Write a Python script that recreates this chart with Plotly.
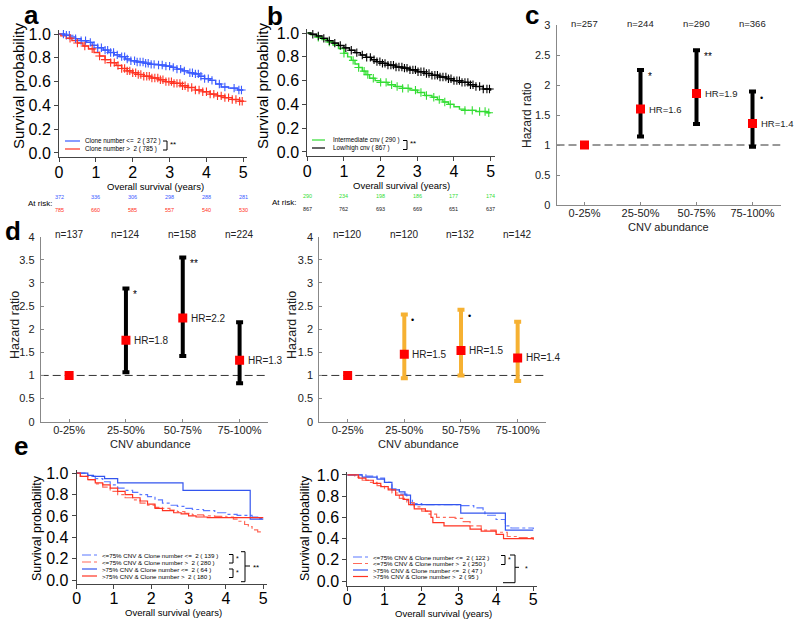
import numpy as np
import plotly.graph_objects as go

W, H = 800, 625
def px(x): return x / W
def py(y): return 1 - y / H

FONT = "Liberation Sans, Arial, Helvetica, sans-serif"
NARROW = "Liberation Sans Narrow, Liberation Sans, Arial, sans-serif"

BLUE = "#3b5bff"
RED = "#ff3322"
GREEN = "#33dd33"
ORANGE = "#f6b132"

# ---------------- data: panel a ----------------
a_blue_t = [0, 0.15, 0.3, 0.45, 0.6, 0.75, 0.9, 1.05, 1.2, 1.35, 1.5, 1.65, 1.8, 1.95, 2.1, 2.3, 2.5, 2.7, 2.9, 3.05, 3.2, 3.35, 3.5, 3.65, 3.8, 3.95, 4.1, 4.25, 4.4, 4.6, 4.85, 5.0]
a_blue_s = [1.0, 0.99, 0.975, 0.96, 0.945, 0.93, 0.905, 0.885, 0.865, 0.845, 0.825, 0.81, 0.79, 0.775, 0.765, 0.755, 0.745, 0.74, 0.73, 0.72, 0.705, 0.69, 0.675, 0.665, 0.645, 0.625, 0.61, 0.58, 0.555, 0.545, 0.53, 0.53]
a_red_t = [0, 0.05, 0.2, 0.35, 0.5, 0.65, 0.8, 0.95, 1.1, 1.25, 1.4, 1.55, 1.7, 1.85, 2.0, 2.15, 2.3, 2.5, 2.7, 2.9, 3.1, 3.3, 3.5, 3.7, 3.9, 4.1, 4.3, 4.5, 4.7, 4.9, 5.0]
a_red_s = [1.0, 0.985, 0.965, 0.945, 0.925, 0.9, 0.875, 0.845, 0.815, 0.785, 0.76, 0.735, 0.71, 0.69, 0.675, 0.66, 0.645, 0.63, 0.615, 0.6, 0.585, 0.565, 0.55, 0.53, 0.515, 0.495, 0.48, 0.465, 0.45, 0.435, 0.43]
a_blue_cens = [0.12, 0.2, 0.28, 0.45, 0.6, 0.72, 0.85, 0.95, 1.05, 1.15, 1.25, 1.32, 1.4, 1.48, 1.58, 1.7, 1.78, 1.85, 1.95, 2.05, 2.12, 2.2, 2.28, 2.35, 2.42, 2.5, 2.58, 2.7, 2.8, 2.9, 3.0, 3.1, 3.2, 3.3, 3.4, 3.55, 3.62, 3.7, 3.78, 3.85, 3.95, 4.05, 4.15, 4.35, 4.5, 4.75, 4.88, 4.95]
a_red_cens = [0.3, 0.5, 0.7, 0.9, 1.1, 1.25, 1.4, 1.5, 1.6, 1.7, 1.78, 1.85, 1.92, 2.0, 2.08, 2.15, 2.22, 2.3, 2.38, 2.45, 2.52, 2.6, 2.68, 2.75, 2.82, 2.9, 2.98, 3.05, 3.12, 3.2, 3.28, 3.35, 3.42, 3.5, 3.6, 3.7, 3.8, 3.9, 4.0, 4.1, 4.2, 4.3, 4.4, 4.5, 4.6, 4.7, 4.8, 4.9, 4.97]
a_labels = ["Clone number <=  2 ( 372 )", "Clone number >  2 ( 785 )"]
a_risk_blue = [372, 336, 306, 298, 288, 281]
a_risk_red = [785, 660, 585, 557, 540, 530]

# ---------------- data: panel b ----------------
b_green_t = [0, 0.1, 0.25, 0.4, 0.55, 0.7, 0.85, 1.0, 1.1, 1.2, 1.3, 1.4, 1.5, 1.6, 1.7, 1.85, 2.0, 2.2, 2.4, 2.6, 2.8, 3.0, 3.2, 3.4, 3.55, 3.7, 3.85, 4.0, 4.15, 4.3, 4.6, 4.9, 5.0]
b_green_s = [1.0, 0.985, 0.965, 0.945, 0.925, 0.9, 0.87, 0.83, 0.8, 0.77, 0.74, 0.71, 0.68, 0.65, 0.62, 0.6, 0.585, 0.565, 0.55, 0.535, 0.52, 0.5, 0.475, 0.46, 0.44, 0.42, 0.4, 0.38, 0.36, 0.35, 0.34, 0.33, 0.33]
b_black_t = [0, 0.1, 0.25, 0.4, 0.55, 0.7, 0.85, 1.0, 1.15, 1.3, 1.45, 1.6, 1.75, 1.9, 2.05, 2.2, 2.4, 2.6, 2.8, 3.0, 3.2, 3.4, 3.6, 3.8, 4.0, 4.2, 4.4, 4.6, 4.8, 5.0]
b_black_s = [1.0, 0.99, 0.975, 0.955, 0.935, 0.915, 0.895, 0.875, 0.855, 0.835, 0.815, 0.795, 0.775, 0.76, 0.745, 0.73, 0.715, 0.705, 0.69, 0.675, 0.66, 0.645, 0.63, 0.615, 0.6, 0.585, 0.565, 0.55, 0.53, 0.515]
b_green_cens = [0.3, 0.6, 1.0, 1.25, 1.4, 1.55, 1.65, 1.8, 2.0, 2.15, 2.3, 2.45, 2.6, 2.75, 2.95, 3.1, 3.25, 3.45, 3.6, 3.75, 3.9, 4.3, 4.5, 4.7, 4.85, 4.95]
b_black_cens = [0.15, 0.3, 0.45, 0.6, 0.75, 0.9, 1.05, 1.2, 1.35, 1.5, 1.62, 1.72, 1.82, 1.9, 1.98, 2.05, 2.12, 2.2, 2.28, 2.35, 2.42, 2.5, 2.58, 2.65, 2.72, 2.8, 2.88, 2.95, 3.02, 3.1, 3.18, 3.25, 3.32, 3.4, 3.48, 3.55, 3.62, 3.7, 3.78, 3.85, 3.92, 4.0, 4.08, 4.15, 4.22, 4.3, 4.38, 4.45, 4.52, 4.6, 4.7, 4.8, 4.9, 4.97]
b_labels = ["Intermediate cnv ( 290 )", "Low/high cnv ( 867 )"]
b_risk_green = [290, 234, 198, 186, 177, 174]
b_risk_black = [867, 762, 693, 669, 651, 637]
km_ticks = [0, 1, 2, 3, 4, 5]

# ---------------- data: hazard ratio panels ----------------
hr_categories = ["0-25%", "25-50%", "50-75%", "75-100%"]
c_n = [257, 244, 290, 366]
c_hr = [1.0, 1.6, 1.86, 1.36]
c_lo = [1.0, 1.14, 1.35, 0.97]
c_hi = [1.0, 2.25, 2.58, 1.89]
c_sig = ["", "*", "**", "\u2022"]

dl_n = [137, 124, 158, 224]
dl_hr = [1.0, 1.76, 2.24, 1.33]
dl_lo = [1.0, 1.07, 1.42, 0.83]
dl_hi = [1.0, 2.88, 3.55, 2.15]
dl_sig = ["", "*", "**", ""]

dr_n = [120, 120, 132, 142]
dr_hr = [1.0, 1.46, 1.54, 1.38]
dr_lo = [1.0, 0.94, 1.0, 0.88]
dr_hi = [1.0, 2.32, 2.42, 2.16]
dr_sig = ["", "\u2022", "\u2022", ""]

# ---------------- data: panel e ----------------
el_bd_t = [0, 0.3, 0.5, 0.7, 0.9, 1.1, 1.3, 1.5, 1.7, 1.9, 2.1, 2.3, 2.5, 2.7, 2.9, 3.1, 3.4, 3.7, 4.0, 4.3, 4.7, 4.85, 5.0]
el_bd_s = [1.0, 0.97, 0.95, 0.92, 0.89, 0.86, 0.84, 0.82, 0.8, 0.78, 0.75, 0.72, 0.7, 0.69, 0.67, 0.66, 0.65, 0.63, 0.615, 0.605, 0.59, 0.575, 0.575]
el_rd_t = [0, 0.1, 0.3, 0.5, 0.7, 0.9, 1.1, 1.3, 1.5, 1.7, 1.9, 2.1, 2.3, 2.5, 2.7, 2.9, 3.1, 3.4, 3.7, 4.0, 4.2, 4.35, 4.5, 4.6, 4.7, 4.85, 5.0]
el_rd_s = [1.0, 0.97, 0.94, 0.9, 0.87, 0.83, 0.8, 0.77, 0.75, 0.72, 0.7, 0.68, 0.67, 0.655, 0.64, 0.625, 0.61, 0.6, 0.595, 0.59, 0.57, 0.55, 0.52, 0.5, 0.47, 0.45, 0.45]
el_bs_t = [0, 0.3, 0.45, 0.75, 1.1, 2.85, 4.65, 5.0]
el_bs_s = [1.0, 0.98, 0.97, 0.95, 0.91, 0.84, 0.57, 0.57]
el_rs_t = [0, 0.1, 0.3, 0.5, 0.7, 0.9, 1.1, 1.3, 1.5, 1.7, 1.9, 2.1, 2.3, 2.6, 2.8, 3.0, 3.2, 3.5, 5.0]
el_rs_s = [1.0, 0.97, 0.94, 0.91, 0.89, 0.86, 0.83, 0.8, 0.77, 0.74, 0.71, 0.67, 0.65, 0.63, 0.62, 0.6, 0.59, 0.585, 0.585]
el_labels = ["<=75% CNV & Clone number <=  2 ( 139 )", "<=75% CNV & Clone number >  2 ( 280 )",
             ">75% CNV & Clone number <=  2 ( 64 )", ">75% CNV & Clone number >  2 ( 180 )"]

er_bd_t = [0, 0.5, 0.8, 1.0, 1.2, 1.4, 1.6, 1.75, 2.0, 3.0, 3.4, 3.65, 3.7, 4.0, 4.25, 4.4, 5.0]
er_bd_s = [1.0, 0.99, 0.97, 0.93, 0.87, 0.82, 0.76, 0.73, 0.72, 0.71, 0.69, 0.66, 0.62, 0.58, 0.52, 0.5, 0.49]
er_rd_t = [0, 0.2, 0.4, 0.6, 0.8, 1.0, 1.2, 1.4, 1.6, 1.8, 2.0, 2.2, 2.4, 2.9, 3.1, 3.3, 3.6, 4.0, 4.3, 4.6, 5.0]
er_rd_s = [1.0, 0.98, 0.95, 0.93, 0.9, 0.87, 0.83, 0.78, 0.74, 0.7, 0.66, 0.63, 0.6, 0.59, 0.56, 0.52, 0.48, 0.46, 0.42, 0.41, 0.39]
er_bs_t = [0, 0.4, 0.8, 1.0, 1.2, 1.4, 1.55, 1.7, 3.05, 4.25, 5.0]
er_bs_s = [1.0, 0.98, 0.96, 0.93, 0.86, 0.84, 0.81, 0.72, 0.64, 0.48, 0.48]
er_rs_t = [0, 0.3, 0.5, 0.7, 0.9, 1.1, 1.3, 1.5, 1.65, 1.8, 2.1, 2.25, 2.3, 2.6, 3.3, 3.6, 4.0, 4.2, 5.0]
er_rs_s = [1.0, 0.97, 0.95, 0.92, 0.89, 0.86, 0.81, 0.77, 0.72, 0.68, 0.66, 0.6, 0.55, 0.52, 0.49, 0.47, 0.44, 0.4, 0.39]
er_labels = ["<=75% CNV & Clone number <=  2 ( 122 )", "<=75% CNV & Clone number >  2 ( 250 )",
             ">75% CNV & Clone number <=  2 ( 47 )", ">75% CNV & Clone number >  2 ( 95 )"]

# ---------------- helpers ----------------
def esc(s):
    return s.replace("&", "&amp;").replace("<", "&lt;").replace(">", "&gt;")

def surv_at(ts, ss, t):
    i = int(np.searchsorted(np.array(ts), t, side="right")) - 1
    return ss[i]

fig = go.Figure()
shapes = []
ann = []

def step(xa, ya, t, s, color, width=1.4, dash="solid"):
    fig.add_trace(go.Scatter(x=t, y=s, mode="lines", line=dict(color=color, width=width, dash=dash, shape="hv"),
                             xaxis=xa, yaxis=ya, showlegend=False, hoverinfo="skip"))

def cens(xa, ya, t, s, ct, color):
    fig.add_trace(go.Scatter(x=ct, y=[surv_at(t, s, c) for c in ct], mode="markers",
                             marker=dict(symbol="cross-thin", size=6, line=dict(width=1.1, color=color), color=color),
                             xaxis=xa, yaxis=ya, showlegend=False, hoverinfo="skip"))

def text(x, y, s, size, color="black", xanchor="center", yanchor="middle", angle=0, bold=False, family=FONT, xref="paper", yref="paper", xshift=0, yshift=0):
    ann.append(dict(x=x, y=y, xref=xref, yref=yref, text=(f"<b>{s}</b>" if bold else s), showarrow=False,
                    xanchor=xanchor, yanchor=yanchor, textangle=angle, xshift=xshift, yshift=yshift,
                    font=dict(size=size, color=color, family=family)))

def seg(x0, y0, x1, y1, color, width=1, dash="solid"):
    shapes.append(dict(type="line", xref="paper", yref="paper", x0=px(x0), y0=py(y0), x1=px(x1), y1=py(y1),
                       line=dict(color=color, width=width, dash=dash)))

def path(points, width=1.2, color="black"):
    d = "M " + " L ".join(f"{px(a):.5f},{py(b):.5f}" for a, b in points)
    shapes.append(dict(type="path", xref="paper", yref="paper", path=d, line=dict(color=color, width=width)))

# ---------------- panel a ----------------
step("x", "y", a_blue_t, a_blue_s, BLUE)
step("x", "y", a_red_t, a_red_s, RED)
cens("x", "y", a_blue_t, a_blue_s, a_blue_cens, BLUE)
cens("x", "y", a_red_t, a_red_s, a_red_cens, RED)

# ---------------- panel b ----------------
step("x2", "y2", b_green_t, b_green_s, GREEN)
step("x2", "y2", b_black_t, b_black_s, "black")
cens("x2", "y2", b_green_t, b_green_s, b_green_cens, GREEN)
cens("x2", "y2", b_black_t, b_black_s, b_black_cens, "black")

# ---------------- hazard panels ----------------
def hazard(xa, ya, hr, lo, hi, color):
    xs = [1, 2, 3, 4]
    fig.add_trace(go.Scatter(x=xs, y=hr, mode="markers",
                             marker=dict(symbol="square", size=9, color="#ff0000", line=dict(width=0)),
                             error_y=dict(type="data", symmetric=False,
                                          array=[h - m for h, m in zip(hi, hr)],
                                          arrayminus=[m - l for m, l in zip(hr, lo)],
                                          thickness=4, width=3.5, color=color),
                             xaxis=xa, yaxis=ya, showlegend=False, hoverinfo="skip"))
    shapes.append(dict(type="line", xref=xa, yref=ya, x0=0.5, x1=4.5, y0=1, y1=1,
                       line=dict(color="#333", width=1, dash="8px,4px"), layer="below"))

hazard("x3", "y3", c_hr, c_lo, c_hi, "black")
hazard("x4", "y4", dl_hr, dl_lo, dl_hi, "black")
hazard("x5", "y5", dr_hr, dr_lo, dr_hi, ORANGE)

def hazard_text(xa, ya, ns, hr, hi, sig, top, size_n, size_hr):
    for i in range(4):
        text(i + 1, top, f"n={ns[i]}", size_n, color="#222", xref=xa, yref=ya, yshift=2)
        if i > 0:
            text(i + 1, hr[i], f"HR={hr[i]:.1f}", size_hr, color="#222", xanchor="left", xref=xa, yref=ya, xshift=6)
        if sig[i]:
            text(i + 1, hi[i], sig[i], 10 if sig[i] != "\u2022" else 9, color="black", xanchor="left",
                 xref=xa, yref=ya, xshift=5, yshift=-6)

hazard_text("x3", "y3", c_n, c_hr, c_hi, c_sig, 3, 9.5, 9.5)
hazard_text("x4", "y4", dl_n, dl_hr, dl_hi, dl_sig, 4, 10, 10)
hazard_text("x5", "y5", dr_n, dr_hr, dr_hi, dr_sig, 4, 10, 10)

# ---------------- panel e ----------------
e_colors = ["#5a78ff", "#ff6a5a", "#3355ee", "#ff3322"]
e_dash = ["dashdot", "dashdot", "solid", "solid"]
for xa, ya, curves in [("x6", "y6", [(el_bd_t, el_bd_s), (el_rd_t, el_rd_s), (el_bs_t, el_bs_s), (el_rs_t, el_rs_s)]),
                       ("x7", "y7", [(er_bd_t, er_bd_s), (er_rd_t, er_rd_s), (er_bs_t, er_bs_s), (er_rs_t, er_rs_s)])]:
    for k, (t, s) in enumerate(curves):
        step(xa, ya, t, s, e_colors[k], width=1.2, dash=e_dash[k])

# ---------------- axes ----------------
def km_x(d0, d1, rng, anchor, standoff=-3):
    return dict(domain=[px(d0), px(d1)], range=rng, anchor=anchor, showline=True, linecolor="#444", linewidth=1,
                ticks="outside", ticklen=4, tickcolor="#444", tickvals=km_ticks, automargin=False,
                ticklabelstandoff=standoff,
                tickfont=dict(size=16, family=FONT, color="black"), showgrid=False, zeroline=False)

def km_y(top, bot, rng, anchor):
    return dict(domain=[py(bot), py(top)], range=rng, anchor=anchor, showline=True, linecolor="#444", linewidth=1,
                ticks="outside", ticklen=4, tickcolor="#444", tickvals=[0, 0.2, 0.4, 0.6, 0.8, 1.0], tickformat=".1f",
                automargin=False,
                tickfont=dict(size=16, family=FONT, color="black"), showgrid=False, zeroline=False)

def hz_x(d0, d1, anchor):
    return dict(domain=[px(d0), px(d1)], range=[0.5, 4.5], anchor=anchor, showline=True, linecolor="#888", linewidth=1,
                ticks="inside", ticklen=3, tickcolor="#888", tickvals=[1, 2, 3, 4], ticktext=hr_categories,
                automargin=False, ticklabelstandoff=-2,
                tickfont=dict(size=11, family=FONT, color="#222"), showgrid=False, zeroline=False)

def hz_y(top, bot, ymax, anchor):
    vals = [v / 2 for v in range(0, int(ymax * 2) + 1)]
    return dict(domain=[py(bot), py(top)], range=[0, ymax], anchor=anchor, showline=True, linecolor="#888", linewidth=1,
                ticks="inside", ticklen=3, tickcolor="#888", tickvals=vals, ticktext=[f"{v:g}" for v in vals],
                automargin=False,
                tickfont=dict(size=11, family=FONT, color="#222"), showgrid=False, zeroline=False, ticklabelstandoff=3)

layout_axes = dict(
    xaxis=km_x(59, 247, [0, 5.1], "y"), yaxis=km_y(30, 157, [-0.034, 1.034], "x"),
    xaxis2=km_x(307.3, 495, [0, 5.12], "y2"), yaxis2=km_y(29, 156, [-0.034, 1.034], "x2"),
    xaxis3=hz_x(556.5, 780.5, "y3"), yaxis3=hz_y(25, 205, 3, "x3"),
    xaxis4=hz_x(40.7, 268, "y4"), yaxis4=hz_y(236.7, 421.7, 4, "x4"),
    xaxis5=hz_x(319.3, 546, "y5"), yaxis5=hz_y(236.7, 421.7, 4, "x5"),
    xaxis6=km_x(76.6, 267, [0, 5.1], "y6", -5), yaxis6=km_y(470, 584.3, [-0.04, 1.03], "x6"),
    xaxis7=km_x(347.3, 537, [0, 5.1], "y7", -5), yaxis7=km_y(472, 586, [-0.047, 1.028], "x7"),
)

# ---------------- axis titles ----------------
text(px(19), py(86), "Survival probability", 15, angle=-90)
text(px(263), py(86), "Survival probability", 15, angle=-90)
text(px(155), py(186.5), "Overall survival (years)", 9.5)
text(px(402), py(185.5), "Overall survival (years)", 9.5)
text(px(527), py(115), "Hazard ratio", 12, color="#222", angle=-90)
text(px(15), py(325), "Hazard ratio", 12.5, color="#222", angle=-90)
text(px(292), py(325), "Hazard ratio", 12.5, color="#222", angle=-90)
text(px(668), py(227), "CNV abundance", 11, color="#222")
text(px(150), py(443.5), "CNV abundance", 11, color="#222")
text(px(418), py(443.5), "CNV abundance", 11, color="#222")
text(px(37), py(528), "Survival probability", 12.5, angle=-90)
text(px(305), py(528), "Survival probability", 12.5, angle=-90)
text(px(173), py(612), "Overall survival (years)", 9.5)
text(px(443), py(613), "Overall survival (years)", 9.5)

# panel letters
for lab, x, y in [("a", 31, 15), ("b", 275, 16), ("c", 532, 15), ("d", 13, 231), ("e", 21, 446)]:
    text(px(x), py(y), lab, 26, bold=True, family="Liberation Sans, Arial, sans-serif")

# ---------------- at risk ----------------
text(px(40), py(203), "At risk:", 8, family=NARROW)
text(px(284), py(202.5), "At risk:", 8, family=NARROW)
for i, t in enumerate(km_ticks):
    text(t, py(197.3), str(a_risk_blue[i]), 5.5, color=BLUE, xref="x")
    text(t, py(210), str(a_risk_red[i]), 5.5, color=RED, xref="x")
    text(t, py(195.7), str(b_risk_green[i]), 5.5, color=GREEN, xref="x2")
    text(t, py(209), str(b_risk_black[i]), 5.5, color="#222", xref="x2")

# ---------------- manual legends ----------------
def legend(x0, x1, xt, rows, labels, colors, dashes, size, lw=1.2):
    for y, lab, c, d in zip(rows, labels, colors, dashes):
        seg(x0, y, x1, y, c, width=lw, dash=d)
        text(px(xt), py(y), esc(lab), size, xanchor="left")

legend(65, 80, 83, [141, 149], a_labels, [BLUE, RED], ["solid", "solid"], 6.3)
path([(163, 141), (167, 141), (167, 150), (163, 150)], width=1)
text(px(168), py(144.5), "**", 8, xanchor="left")

legend(312, 325, 331, [140, 148], b_labels, [GREEN, "black"], ["solid", "solid"], 6.3)
path([(403, 140.5), (407, 140.5), (407, 149.5), (403, 149.5)], width=1)
text(px(408), py(144), "**", 8, xanchor="left")

legend(82, 97, 100, [555, 562, 569, 576], el_labels, e_colors, ["dashdot", "dashdot", "solid", "solid"], 6.2)
path([(229, 554.5), (233, 554.5), (233, 563), (229, 563)], width=1)
text(px(234), py(558), "*", 7, xanchor="left")
path([(229, 569), (233, 569), (233, 577.5), (229, 577.5)], width=1)
text(px(234), py(572.5), "*", 7, xanchor="left")
path([(241, 551.7), (245, 551.7), (245, 581.7), (241, 581.7)], width=1)
seg(245, 566, 250, 566, "black", width=1)
text(px(251), py(567), "**", 8, xanchor="left")

legend(353, 368, 371, [557, 563.5, 570, 576.5], er_labels, e_colors, ["dashdot", "dashdot", "solid", "solid"], 6.2)
path([(501, 555.5), (505, 555.5), (505, 564.5), (501, 564.5)], width=1)
text(px(506), py(559), "*", 7, xanchor="left")
path([(510, 555), (515, 555), (515, 582.7), (503, 582.7)], width=1)
seg(515, 567.3, 519, 567.3, "black", width=1)
text(px(523), py(568), "*", 7, xanchor="left")

fig.update_layout(
    width=W, height=H, margin=dict(l=0, r=0, t=0, b=0, pad=0, autoexpand=False),
    paper_bgcolor="white", plot_bgcolor="white",
    font=dict(family=FONT, color="black"),
    showlegend=False, shapes=shapes, annotations=ann,
    **layout_axes,
)

fig.write_html("out.html", config={"displayModeBar": False},
               post_script="document.body.style.margin='0px';document.body.style.overflow='hidden';")
